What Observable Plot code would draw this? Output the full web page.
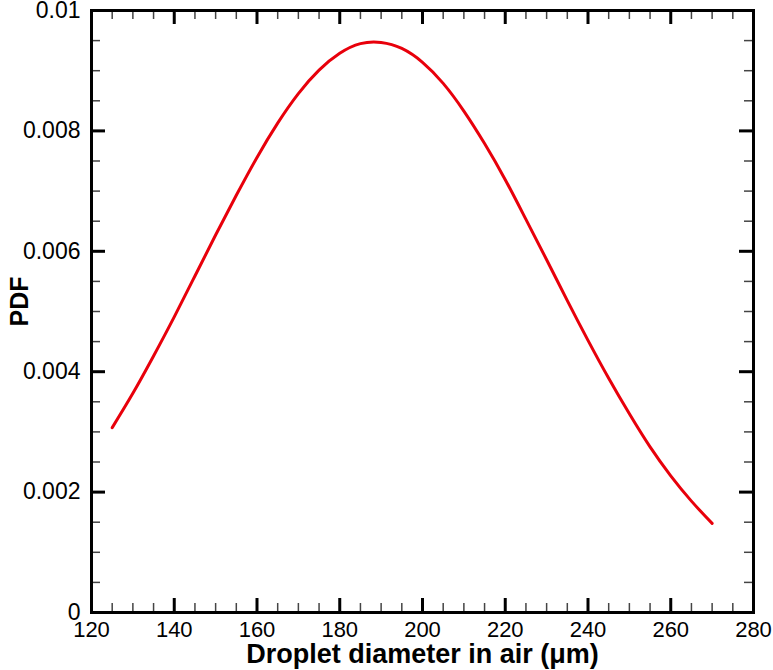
<!DOCTYPE html>
<html>
<head>
<meta charset="utf-8">
<script src="https://cdn.jsdelivr.net/npm/d3@7"></script>
<script src="https://cdn.jsdelivr.net/npm/@observablehq/plot@0.6"></script>
<style>
  html, body { margin: 0; padding: 0; background: #fff; }
  #chart { width: 773px; height: 670px; }
</style>
</head>
<body>
<div id="chart"></div>
<script>
// Droplet diameter (µm)
const diameter = [125, 130, 135, 140, 145, 150, 155, 160, 165, 170, 175, 180, 185,
                  190, 195, 200, 205, 210, 215, 220, 225, 230, 235, 240, 245, 250, 255, 260, 265, 270];
// PDF values
const pdf = [0.00307, 0.00364, 0.00426, 0.00491, 0.00559, 0.00627, 0.00693, 0.00756, 0.00813,
             0.00862, 0.00901, 0.00929, 0.00945, 0.00947, 0.00937, 0.00914, 0.00879,
             0.00833, 0.00779, 0.00719, 0.00653, 0.00586, 0.00518, 0.00452, 0.00389, 0.00330,
             0.00275, 0.00227, 0.00185, 0.00148];

const xMajor = [120, 140, 160, 180, 200, 220, 240, 260, 280];
const xMinor = [125, 130, 135, 145, 150, 155, 165, 170, 175, 185, 190, 195, 205, 210, 215,
                225, 230, 235, 245, 250, 255, 265, 270, 275];
const yMajor = [0, 0.002, 0.004, 0.006, 0.008, 0.01];
const yMajorLabels = ["0", "0.002", "0.004", "0.006", "0.008", "0.01"];
const yMinor = [0.0005, 0.001, 0.0015, 0.0025, 0.003, 0.0035, 0.0045, 0.005, 0.0055,
                0.0065, 0.007, 0.0075, 0.0085, 0.009, 0.0095];

const xTitle = "Droplet diameter in air (\u03bcm)";
const yTitle = "PDF";

const data = diameter.map((d, i) => ({d, p: pdf[i]}));
const yTickData = yMajor.map((v, i) => ({v, label: yMajorLabels[i]}));

const W = 773, H = 670;
const mL = 91, mR = 20, mT = 10, mB = 58;
const innerW = W - mL - mR, innerH = H - mT - mB;
const majLen = 14, minLen = 9;
const FONT = "'Liberation Sans', Arial, Helvetica, sans-serif";

const chart = Plot.plot({
  width: W,
  height: H,
  marginLeft: mL,
  marginRight: mR,
  marginTop: mT,
  marginBottom: mB,
  style: {fontFamily: FONT, color: "#000", background: "#fff"},
  x: {domain: [120, 280], axis: null},
  y: {domain: [0, 0.01], axis: null},
  marks: [
    // minor ticks (bottom, top, left, right)
    Plot.tickX(xMinor, {x: d => d, insetTop: innerH - minLen, stroke: "#444", strokeWidth: 1.5}),
    Plot.tickX(xMinor, {x: d => d, insetBottom: innerH - minLen, stroke: "#444", strokeWidth: 1.5}),
    Plot.tickY(yMinor, {y: d => d, insetRight: innerW - minLen, stroke: "#444", strokeWidth: 1.5}),
    Plot.tickY(yMinor, {y: d => d, insetLeft: innerW - minLen, stroke: "#444", strokeWidth: 1.5}),
    // major ticks
    Plot.tickX(xMajor, {x: d => d, insetTop: innerH - majLen, stroke: "#000", strokeWidth: 3}),
    Plot.tickX(xMajor, {x: d => d, insetBottom: innerH - majLen, stroke: "#000", strokeWidth: 3}),
    Plot.tickY(yMajor, {y: d => d, insetRight: innerW - majLen, stroke: "#000", strokeWidth: 3}),
    Plot.tickY(yMajor, {y: d => d, insetLeft: innerW - majLen, stroke: "#000", strokeWidth: 3}),
    // tick labels
    Plot.text(xMajor, {x: d => d, text: d => String(d), frameAnchor: "bottom", textAnchor: "middle",
                       lineAnchor: "top", dy: 9, fontSize: 22, fill: "#000"}),
    Plot.text(yTickData, {y: "v", text: "label", frameAnchor: "left", textAnchor: "end",
                          lineAnchor: "middle", dx: -11, fontSize: 23, fill: "#000"}),
    // curve
    Plot.line(data, {x: "d", y: "p", stroke: "#e8000b", strokeWidth: 3, curve: "natural"}),
    // frame
    Plot.frame({stroke: "#000", strokeWidth: 3}),
    // axis titles
    Plot.text([xTitle], {frameAnchor: "bottom", textAnchor: "middle", lineAnchor: "middle",
                         dy: 42, text: d => d, fontWeight: "bold", fontSize: 27, fill: "#000"}),
    Plot.text([yTitle], {frameAnchor: "left", textAnchor: "middle", lineAnchor: "middle",
                         dx: -72, dy: -10, rotate: -90, text: d => d, fontWeight: "bold", fontSize: 25, fill: "#000"})
  ]
});
document.getElementById("chart").appendChild(chart);
</script>
</body>
</html>
